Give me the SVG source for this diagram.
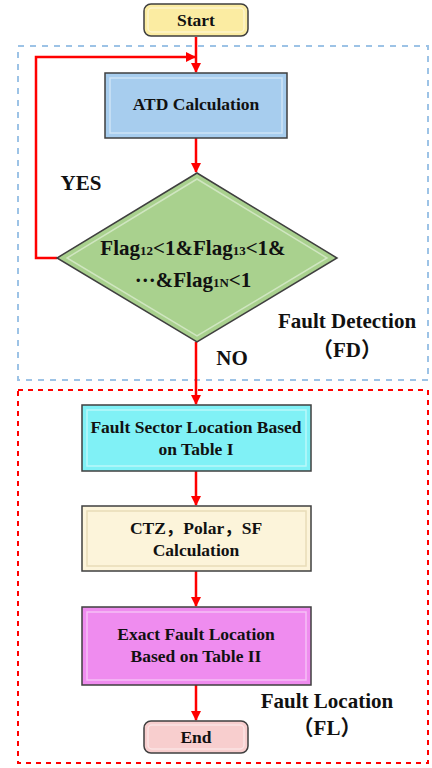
<svg xmlns="http://www.w3.org/2000/svg" width="432" height="768" viewBox="0 0 432 768">
<defs>
<marker id="ah" markerWidth="10" markerHeight="10" refX="9" refY="5" orient="auto" markerUnits="userSpaceOnUse">
<path d="M0,0 L10,5 L0,10 z" fill="#ff0000"/>
</marker>
<style>
.box{stroke:#3f3f3f;stroke-width:1.5}
.inner{fill:none;stroke:#ffffff;stroke-opacity:0.45;stroke-width:1.5}
.t{font-family:"Liberation Serif","Noto Sans CJK SC",serif;font-weight:bold;font-size:17.5px;fill:#111;text-anchor:middle}
.lbl{font-family:"Liberation Serif","Noto Sans CJK SC",serif;font-weight:bold;font-size:21px;fill:#111;text-anchor:middle}
.dt{font-family:"Liberation Serif","Noto Sans CJK SC",serif;font-weight:bold;font-size:21px;fill:#111;text-anchor:middle}
.sub{font-size:13px}
.conn{fill:none;stroke:#ff0000;stroke-width:2.5}
</style>
</defs>
<rect x="18" y="46" width="410" height="334" fill="none" stroke="#9dc3e6" stroke-width="2" stroke-dasharray="6 6"/>
<rect x="18" y="390" width="410" height="373" fill="none" stroke="#ff0000" stroke-width="2" stroke-dasharray="5 5"/>
<g id="connectors">
<line class="conn" x1="196" y1="37" x2="196" y2="72" marker-end="url(#ah)"/>
<polyline class="conn" points="57,258 36,258 36,57 195,57" marker-end="url(#ah)"/>
<line class="conn" x1="196" y1="138" x2="196" y2="172" marker-end="url(#ah)"/>
<line class="conn" x1="196" y1="342" x2="196" y2="404" marker-end="url(#ah)"/>
<line class="conn" x1="196" y1="471" x2="196" y2="505" marker-end="url(#ah)"/>
<line class="conn" x1="196" y1="571" x2="196" y2="606" marker-end="url(#ah)"/>
<line class="conn" x1="196" y1="685" x2="196" y2="720" marker-end="url(#ah)"/>
</g>
<g id="start">
<rect class="box" x="144" y="4" width="104" height="32" rx="7" fill="#fbeca2"/>
<rect class="inner" x="148" y="8" width="96" height="24" rx="4"/>
<text class="t" x="196" y="26">Start</text>
</g>
<g id="atd">
<rect class="box" x="105" y="73" width="182" height="65" fill="#a7cdee"/>
<rect class="inner" x="110" y="78" width="172" height="55"/>
<text class="t" x="196" y="110">ATD Calculation</text>
</g>
<g id="decision">
<polygon class="box" points="197,173 337,258 197,342 57,258" fill="#a9d18e"/>
<polygon class="inner" points="197,179 327,258 197,336 67,258"/>
<text class="dt" x="193" y="255">Flag<tspan class="sub">12</tspan>&lt;1&amp;Flag<tspan class="sub">13</tspan>&lt;1&amp;</text>
<text class="dt" x="193" y="287">···&amp;Flag<tspan class="sub">1N</tspan>&lt;1</text>
</g>
<text class="lbl" x="81" y="190">YES</text>
<text class="lbl" x="232" y="365">NO</text>
<text class="lbl" x="347" y="328">Fault Detection</text>
<text class="lbl" x="347" y="357">（FD）</text>
<g id="sector">
<rect class="box" x="82" y="405" width="229" height="66" fill="#80f1f6"/>
<rect class="inner" x="87" y="410" width="219" height="56"/>
<text class="t" x="196" y="433">Fault Sector Location Based</text>
<text class="t" x="196" y="455">on Table I</text>
</g>
<g id="ctz">
<rect class="box" x="82" y="506" width="229" height="65" fill="#fcf4da"/>
<rect class="inner" x="87" y="511" width="219" height="55" style="stroke:#e8dcb8;stroke-opacity:1"/>
<text class="t" x="196" y="534">CTZ，Polar，SF</text>
<text class="t" x="196" y="556">Calculation</text>
</g>
<g id="exact">
<rect class="box" x="82" y="607" width="229" height="78" fill="#ef8cef"/>
<rect class="inner" x="87" y="612" width="219" height="68"/>
<text class="t" x="196" y="640">Exact Fault Location</text>
<text class="t" x="196" y="662">Based on Table II</text>
</g>
<g id="end">
<rect class="box" x="144" y="721" width="104" height="32" rx="7" fill="#f8cece"/>
<rect class="inner" x="148" y="725" width="96" height="24" rx="4"/>
<text class="t" x="196" y="743">End</text>
</g>
<text class="lbl" x="327" y="708">Fault Location</text>
<text class="lbl" x="327" y="735">（FL）</text>
</svg>
